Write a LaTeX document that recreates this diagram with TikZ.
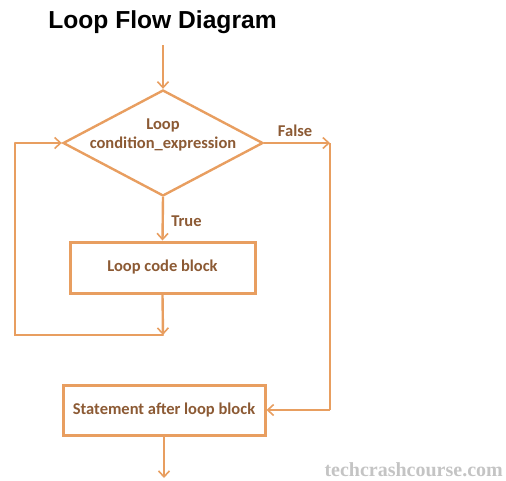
\documentclass[tikz,border=0pt]{standalone}
\usepackage{fontspec}
\setmainfont{Carlito}
\newfontfamily\titlefont{Liberation Sans}
\newfontfamily\markfont{Liberation Serif}
\usetikzlibrary{shapes.geometric,arrows.meta}

\definecolor{flowline}{RGB}{232,158,96}
\definecolor{flowtext}{RGB}{140,90,52}
\definecolor{markgray}{RGB}{196,196,196}

\tikzset{
    flow/.style={draw=flowline,line width=2.4pt},
    arr/.style={flow,-{Straight Barb[length=6pt,width=11pt,line width=1.6pt]}},
    blockbox/.style={draw=flowline,line width=3pt,text=flowtext,font=\bfseries\fontsize{16.5}{19}\selectfont,inner sep=0pt},
    lbl/.style={text=flowtext,font=\bfseries\fontsize{16.5}{19}\selectfont}
}

\begin{document}
\begin{tikzpicture}[x=1pt,y=-1pt]
    \useasboundingbox (0,0) rectangle (506,480);

    \node[font=\titlefont\bfseries\fontsize{24.6}{28}\selectfont] (title) at (162.5,22) {Loop Flow Diagram};

    \coordinate (start) at (163,45);
    \node[diamond,flow,minimum width=200pt,minimum height=106pt,inner sep=0pt] (cond) at (163,143) {};
    \node[lbl,align=center] (condtxt) at (163,135) {Loop\\condition\_expression};

    \node[blockbox,minimum width=185pt,minimum height=51pt] (body) at (162.5,267.5) {Loop code block};
    \node[blockbox,minimum width=202pt,minimum height=50pt] (after) at (164,410) {Statement after loop block};

    \coordinate (join) at (163,335);
    \coordinate (back) at (15,335);
    \coordinate (backup) at (15,143);
    \coordinate (fright) at (330,143);
    \coordinate (fdown) at (330,410);
    \coordinate (finish) at (164,478);

    % entry and true branch
    \draw[arr] (start) -- (cond.north);
    \draw[arr] (cond.south) -- node[lbl,right,xshift=4pt,yshift=-2pt] (truelbl) {True} (body.north);

    % back to the condition
    \draw[arr] (body.south) -- (join);
    \draw[flow,line cap=round] (join) -- (back) -- (backup);
    \draw[arr] (backup) -- (cond.west);

    % false branch
    \draw[arr] (cond.east) -- node[lbl,above,yshift=2pt,xshift=-2pt] (falselbl) {False} (fright);
    \draw[flow] (fright) -- (fdown);
    \draw[arr] (fdown) -- (after.east);
    \draw[arr] (after.south) -- (finish);

    \node[text=markgray,font=\markfont\bfseries\fontsize{20}{22}\selectfont,anchor=base east,inner sep=0pt] (mark) at (503,476) {techcrashcourse.com};
\end{tikzpicture}
\end{document}
